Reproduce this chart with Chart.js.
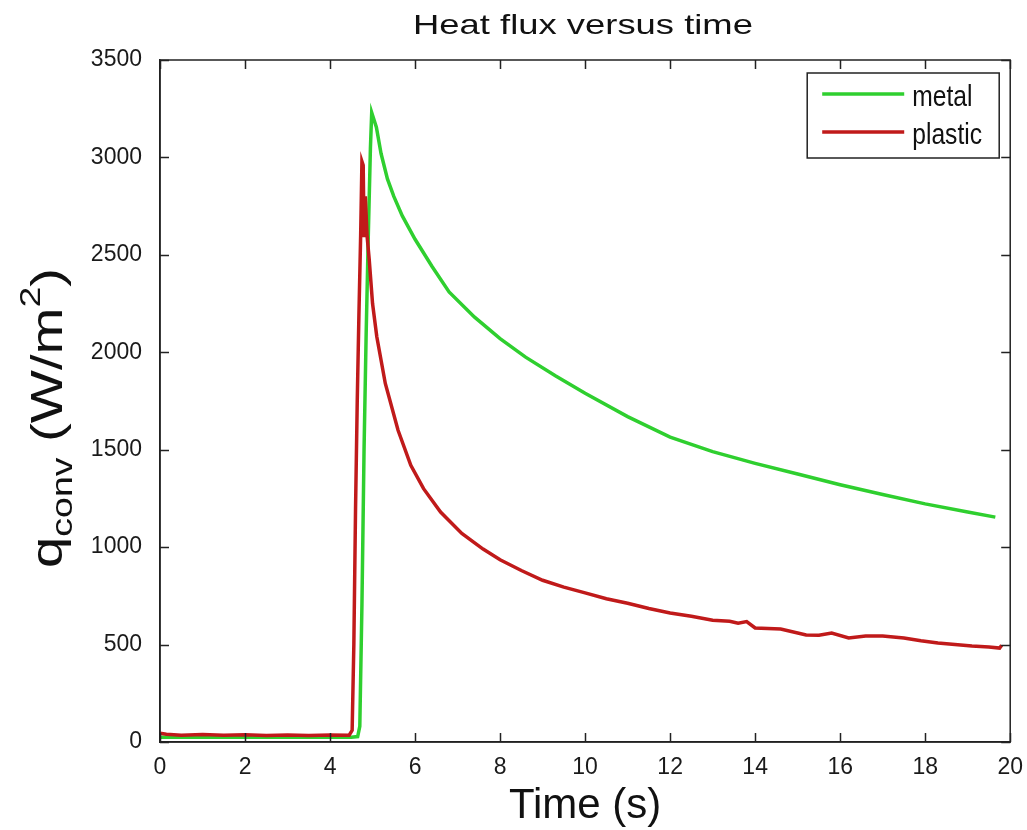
<!DOCTYPE html>
<html>
<head>
<meta charset="utf-8">
<script src="https://cdn.jsdelivr.net/npm/chart.js@4.4.1/dist/chart.umd.min.js"></script>
<style>
    html, body { margin: 0; padding: 0; background: #fff; }
    #wrap { width: 1027px; height: 830px; }
</style>
</head>
<body>
<div id="wrap"><canvas id="heatFluxChart" width="1027" height="830"></canvas></div>
<script>
// values
var chartTitle = 'Heat flux versus time';
var xTicks = [0, 2, 4, 6, 8, 10, 12, 14, 16, 18, 20];
var yTicks = [0, 500, 1000, 1500, 2000, 2500, 3000, 3500];
var seriesLabels = ['metal', 'plastic'];

var metalTime = [0, 0.5, 1, 1.5, 2, 2.5, 3, 3.5, 4, 4.5, 4.65, 4.7, 4.75, 4.8, 4.85, 4.9, 4.95, 4.98,
    5.09, 5.2, 5.35, 5.5, 5.7, 6.0, 6.4, 6.8, 7.4, 8, 8.6, 9.3, 10, 11, 12, 13, 14, 15, 16, 17, 18, 19, 19.65];
var metalFlux = [25, 24, 25, 24, 25, 24, 25, 24, 25, 25, 28, 80, 700, 1500, 2100, 2600, 3050, 3230,
    3155, 3020, 2890, 2800, 2700, 2580, 2440, 2310, 2180, 2070, 1975, 1880, 1790, 1670, 1565, 1490, 1430, 1375, 1320, 1270, 1222, 1180, 1154];

var plasticTime = [0, 0.15, 0.5, 1, 1.5, 2, 2.5, 3, 3.5, 4, 4.45, 4.52, 4.56, 4.6, 4.64, 4.68, 4.72, 4.75, 4.78,
    4.8, 4.83, 4.87, 4.92, 5.0, 5.1, 5.3, 5.6, 5.9, 6.2, 6.6, 7.1, 7.6, 8, 8.5, 9, 9.5, 10, 10.5, 11, 11.5, 12,
    12.5, 13, 13.4, 13.6, 13.8, 14, 14.6, 15.2, 15.5, 15.8, 16.2, 16.6, 17, 17.5, 17.9, 18.3, 18.7, 19.1, 19.5, 19.75, 19.8];
var plasticFlux = [45, 40, 35, 38, 35, 37, 34, 36, 34, 36, 35, 60, 500, 1200, 1750, 2200, 2600, 2980, 2960,
    2590, 2800, 2600, 2480, 2250, 2080, 1840, 1600, 1420, 1300, 1180, 1070, 990, 935, 880, 830, 795, 765, 735, 712, 685, 662,
    645, 625, 620, 610, 618, 585, 580, 549, 548, 559, 534, 544, 544, 534, 520, 508, 500, 493, 488, 482, 497];

var metalColor = '#2fcf2f';
var plasticColor = '#c01a1a';
var axisColor = '#222';
var tickFont = { family: '"Liberation Sans", Arial, sans-serif', size: 23 };

function toPoints(xs, ys) {
    var pts = [];
    for (var i = 0; i < xs.length; i++) {
        pts.push({ x: xs[i], y: ys[i] });
    }
    return pts;
}

// box, inward ticks, legend, title and y label drawn matlab style
var matlabFrame = {
    id: 'matlabFrame',
    afterDraw: function (chart) {
        var ctx = chart.ctx;
        var area = chart.chartArea;
        var xs = chart.scales.x;
        var ys = chart.scales.y;
        var tickLen = 9;

        ctx.save();
        ctx.strokeStyle = axisColor;
        ctx.lineWidth = 1.5;
        ctx.strokeRect(area.left, area.top, area.right - area.left, area.bottom - area.top);
        ctx.beginPath();
        xTicks.forEach(function (v) {
            var px = Math.round(xs.getPixelForValue(v)) + 0.5;
            ctx.moveTo(px, area.bottom); ctx.lineTo(px, area.bottom - tickLen);
            ctx.moveTo(px, area.top); ctx.lineTo(px, area.top + tickLen);
        });
        yTicks.forEach(function (v) {
            var py = Math.round(ys.getPixelForValue(v)) + 0.5;
            ctx.moveTo(area.left, py); ctx.lineTo(area.left + tickLen, py);
            ctx.moveTo(area.right, py); ctx.lineTo(area.right - tickLen, py);
        });
        ctx.stroke();

        // legend
        var lx = area.right - 203, ly = area.top + 13, lw = 192, lh = 85;
        ctx.fillStyle = '#fff';
        ctx.fillRect(lx, ly, lw, lh);
        ctx.lineWidth = 1.5;
        ctx.strokeStyle = axisColor;
        ctx.strokeRect(lx, ly, lw, lh);
        var colors = [metalColor, plasticColor];
        ctx.textBaseline = 'alphabetic';
        ctx.textAlign = 'left';
        for (var i = 0; i < seriesLabels.length; i++) {
            var rowY = ly + 21 + i * 38;
            ctx.strokeStyle = colors[i];
            ctx.lineWidth = 3.5;
            ctx.beginPath();
            ctx.moveTo(lx + 15, rowY); ctx.lineTo(lx + 97, rowY);
            ctx.stroke();
            ctx.save();
            ctx.translate(lx + 105, rowY + 12);
            ctx.scale(0.85, 1);
            ctx.font = '29px "Liberation Sans", Arial, sans-serif';
            ctx.fillStyle = '#111';
            ctx.fillText(seriesLabels[i], 0, 0);
            ctx.restore();
        }

        // title
        ctx.save();
        ctx.translate(583, 34);
        ctx.scale(1.3, 1);
        ctx.font = '28px "Liberation Sans", Arial, sans-serif';
        ctx.textAlign = 'center';
        ctx.fillStyle = '#111';
        ctx.fillText(chartTitle, 0, 0);
        ctx.restore();

        // y axis label with subscript and superscript
        ctx.save();
        ctx.translate(62, 568);
        ctx.rotate(-Math.PI / 2);
        ctx.scale(1.25, 1);
        ctx.fillStyle = '#111';
        ctx.textAlign = 'left';
        var big = '45px "Liberation Sans", Arial, sans-serif';
        var small = '30px "Liberation Sans", Arial, sans-serif';
        var parts = [['q', big, 0], ['conv', small, 10], [' (W/m', big, 0], ['2', small, -22], [')', big, 0]];
        var pos = 0;
        parts.forEach(function (p) {
            ctx.font = p[1];
            ctx.fillText(p[0], pos, p[2]);
            pos += ctx.measureText(p[0]).width;
        });
        ctx.restore();

        ctx.restore();
    }
};

new Chart(document.getElementById('heatFluxChart').getContext('2d'), {
    type: 'line',
    data: {
        datasets: [{
            label: seriesLabels[0],
            data: toPoints(metalTime, metalFlux),
            borderColor: metalColor,
            backgroundColor: metalColor,
            borderWidth: 3.5,
            pointRadius: 0,
            tension: 0,
            order: 2
        },
        {
            label: seriesLabels[1],
            data: toPoints(plasticTime, plasticFlux),
            borderColor: plasticColor,
            backgroundColor: plasticColor,
            borderWidth: 3.5,
            pointRadius: 0,
            tension: 0,
            order: 1
        }]
    },
    options: {
        responsive: false,
        animation: false,
        layout: { padding: { left: 0, right: 14, top: 60, bottom: 0 } },
        plugins: {
            legend: { display: false },
            title: { display: false },
            tooltip: { enabled: false }
        },
        scales: {
            x: {
                type: 'linear',
                min: 0,
                max: 20,
                ticks: {
                    stepSize: 2, padding: 4, maxRotation: 0, font: tickFont, color: '#1a1a1a',
                    callback: function (value) { return String(value); }
                },
                grid: { display: false },
                border: { display: true, color: axisColor, width: 1.5 },
                title: {
                    display: true,
                    text: 'Time (s)',
                    color: '#111',
                    font: { family: '"Liberation Sans", Arial, sans-serif', size: 42, lineHeight: 1 },
                    padding: { top: 0, bottom: 3 }
                },
                afterFit: function (scale) { scale.height = 88; }
            },
            y: {
                min: 0,
                max: 3500,
                ticks: {
                    stepSize: 500, padding: 10, font: tickFont, color: '#1a1a1a',
                    callback: function (value) { return String(value); }
                },
                grid: { display: false },
                border: { display: true, color: axisColor, width: 1.5 },
                afterFit: function (scale) { scale.width = 160; }
            }
        }
    },
    plugins: [matlabFrame]
});
</script>
</body>
</html>
